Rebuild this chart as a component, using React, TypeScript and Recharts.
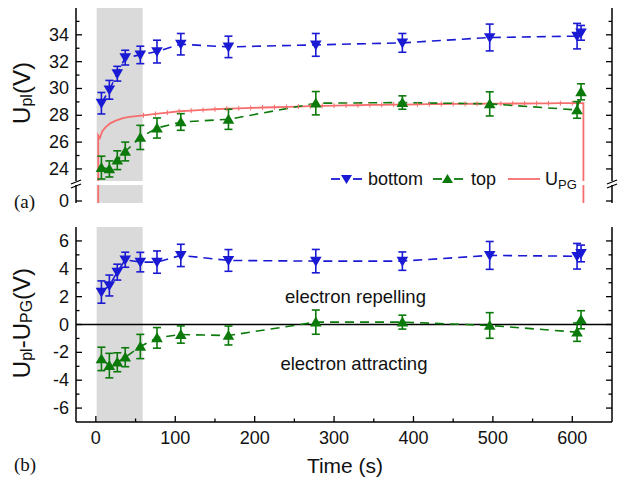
import React from "react";
import {
  ComposedChart,
  ErrorBar,
  Line,
  ReferenceArea,
  ReferenceDot,
  ReferenceLine,
  XAxis,
  YAxis,
} from "recharts";

const FONT = '"Liberation Sans", Arial, Helvetica, sans-serif';
const SERIF = '"Liberation Serif", "Times New Roman", serif';
const BLUE = "#1a1ad4";
const GREEN = "#0b7a0b";
const RED = "#f76e6e";
const SHADE = "#dadada";

// measurement times (s)
const TIME = [7, 17, 27, 37, 56, 77, 107, 167, 277, 386, 496, 606, 611];

// panel (a): plasma potential
const BOTTOM_UPL = [28.9, 29.9, 31.1, 32.3, 32.5, 32.75, 33.3, 33.1, 33.25, 33.4, 33.8, 33.9, 34.15];
const BOTTOM_UPL_ERR = [0.8, 0.7, 0.55, 0.55, 0.65, 0.85, 0.8, 0.8, 0.85, 0.7, 1.0, 0.95, 0.55];
const TOP_UPL = [24.1, 24.0, 24.65, 25.3, 26.35, 27.05, 27.5, 27.7, 28.9, 28.95, 28.85, 28.4, 29.75];
const TOP_UPL_ERR = [0.85, 0.6, 0.7, 0.7, 0.9, 0.75, 0.62, 0.75, 0.87, 0.5, 0.9, 0.62, 0.6];

// U_PG trace
const UPG_TIME = [3, 3, 5, 8, 12, 18, 25, 35, 45, 60, 75, 90, 105, 120, 135, 150, 165, 180, 195, 210, 225, 240, 255, 270, 285, 300, 315, 330, 345, 360, 375, 390, 405, 420, 435, 450, 465, 480, 495, 510, 525, 540, 555, 570, 585, 600, 614, 614];
const UPG_VAL = [-1, 26.5, 26.3, 26.8, 27.1, 27.4, 27.6, 27.8, 27.9, 28.0, 28.1, 28.2, 28.3, 28.35, 28.4, 28.45, 28.5, 28.52, 28.55, 28.58, 28.6, 28.62, 28.65, 28.68, 28.7, 28.72, 28.74, 28.75, 28.77, 28.78, 28.8, 28.8, 28.82, 28.83, 28.84, 28.85, 28.85, 28.86, 28.87, 28.87, 28.88, 28.88, 28.89, 28.89, 28.9, 28.9, 28.9, -1];

// panel (b): U_pl - U_PG
const BOTTOM_DIFF = [2.33, 2.8, 3.76, 4.65, 4.48, 4.48, 4.96, 4.6, 4.55, 4.55, 4.96, 4.9, 5.1];
const BOTTOM_DIFF_ERR = [0.8, 0.75, 0.57, 0.54, 0.7, 0.8, 0.8, 0.78, 0.84, 0.66, 1.0, 0.92, 0.6];
const TOP_DIFF = [-2.47, -2.95, -2.71, -2.35, -1.58, -0.96, -0.72, -0.79, 0.17, 0.17, -0.07, -0.55, 0.34];
const TOP_DIFF_ERR = [0.84, 0.88, 0.68, 0.68, 0.87, 0.74, 0.62, 0.68, 0.87, 0.5, 0.92, 0.66, 0.65];

const X_DOMAIN = [-25, 650];
const X_MAJOR = [0, 100, 200, 300, 400, 500, 600];
const X_TICKS = [0, 50, 100, 150, 200, 250, 300, 350, 400, 450, 500, 550, 600];
const SHADE_RANGE = [1, 59];

const UP_DOMAIN = [23.1, 36];
const UP_MAJOR = [24, 26, 28, 30, 32, 34];
const UP_TICKS = [24, 25, 26, 27, 28, 29, 30, 31, 32, 33, 34, 35];
const LOW_DOMAIN = [-0.15, 1.2];
const LOW_TICKS = [0];
const DIFF_DOMAIN = [-7, 7];
const DIFF_MAJOR = [-6, -4, -2, 0, 2, 4, 6];
const DIFF_TICKS = [-6, -5, -4, -3, -2, -1, 0, 1, 2, 3, 4, 5, 6];

const series = (vals: number[], errs: number[]) =>
  TIME.map((t, i) => ({ t, v: vals[i], err: errs[i] }));
const upg = UPG_TIME.map((t, i) => ({ t, v: UPG_VAL[i] }));

const triangle = (down: boolean, color: string) => (p: any) => {
  const { cx, cy, index } = p;
  if (cx == null || cy == null) return <g key={index} />;
  const s = 5.8;
  const pts = down
    ? `${cx - s},${cy - s * 0.75} ${cx + s},${cy - s * 0.75} ${cx},${cy + s * 0.95}`
    : `${cx - s},${cy + s * 0.75} ${cx + s},${cy + s * 0.75} ${cx},${cy - s * 0.95}`;
  return <polygon key={index} points={pts} fill={color} />;
};

const upgTick = (p: any) => {
  const { cx, cy, index, payload } = p;
  if (cx == null || index < 9 || payload.v < 20 || index >= UPG_TIME.length - 2) return <g key={index} />;
  return <line key={index} x1={cx} x2={cx} y1={cy - 2.5} y2={cy + 2.5} stroke={RED} strokeWidth={1} />;
};

const yTick = (side: "left" | "right", majors: number[], labels: boolean) => (p: any) => {
  const { x, y, payload } = p;
  const v = payload.value;
  const major = majors.includes(v);
  const dir = side === "left" ? 1 : -1;
  return (
    <g>
      <line x1={x} y1={y} x2={x + dir * (major ? 6 : 3.5)} y2={y} stroke="#000" strokeWidth={1.3} />
      {labels && major && (
        <text x={x - 7} y={y} textAnchor="end" dominantBaseline="central" fontSize={18} fill="#111" fontFamily={FONT}>
          {v}
        </text>
      )}
    </g>
  );
};

const xTick = (side: "top" | "bottom", labels: boolean) => (p: any) => {
  const { x, y, payload } = p;
  const v = payload.value;
  const major = X_MAJOR.includes(v);
  const dir = side === "top" ? 1 : -1;
  return (
    <g>
      <line x1={x} y1={y} x2={x} y2={y + dir * (major ? 6 : 3.5)} stroke="#000" strokeWidth={1.3} />
      {labels && major && (
        <text x={x} y={y + 16} textAnchor="middle" dominantBaseline="central" fontSize={18} fill="#111" fontFamily={FONT}>
          {v}
        </text>
      )}
    </g>
  );
};

const AXIS_LINE = { stroke: "#000", strokeWidth: 1.5 };

function yAxes(domain: number[], ticks: number[], majors: number[]) {
  return [
    <YAxis key="yl" yAxisId={0} type="number" domain={domain} ticks={ticks} interval={0} allowDataOverflow
      width={44} tickSize={0} tickMargin={0} tickLine={false} axisLine={AXIS_LINE} tick={yTick("left", majors, true)} />,
    <YAxis key="yr" yAxisId="r" orientation="right" type="number" domain={domain} ticks={ticks} interval={0} allowDataOverflow
      width={6} tickSize={0} tickMargin={0} tickLine={false} axisLine={AXIS_LINE} tick={yTick("right", majors, false)} />,
  ];
}

function xAxis(id: any, side: "top" | "bottom", height: number, labels: boolean) {
  return (
    <XAxis key={"x" + side} xAxisId={id} orientation={side} dataKey="t" type="number" domain={X_DOMAIN} ticks={X_TICKS}
      interval={0} allowDataOverflow height={height} tickSize={0} tickMargin={0} tickLine={false}
      axisLine={AXIS_LINE} tick={xTick(side, labels)} />
  );
}

function measured(vals: number[], errs: number[], color: string, down: boolean, name: string) {
  return (
    <Line key={name} data={series(vals, errs)} dataKey="v" type="linear" stroke={color} strokeWidth={1.6}
      strokeDasharray="9 6" dot={triangle(down, color)} activeDot={false} isAnimationActive={false}>
      <ErrorBar dataKey="err" direction="y" width={4} stroke={color} strokeWidth={1.6} />
    </Line>
  );
}

function upgLine() {
  return (
    <Line key="upg" data={upg} dataKey="v" type="linear" stroke={RED} strokeWidth={1.8} dot={upgTick}
      activeDot={false} isAnimationActive={false} />
  );
}

const W = 623;
const MARGIN_X = { left: 32, right: 5 };

export default function App() {
  return (
    <div style={{ position: "absolute", left: 0, top: 0, width: W, height: 481, background: "#fff", fontFamily: FONT }}>
      {/* (a) upper part of broken axis */}
      <div style={{ position: "absolute", left: 0, top: 0 }}>
        <ComposedChart width={W} height={181} margin={{ top: 8, bottom: 0, ...MARGIN_X }}>
          <ReferenceArea x1={SHADE_RANGE[0]} x2={SHADE_RANGE[1]} fill={SHADE} fillOpacity={1} stroke="none" />
          {xAxis(0, "top", 0, false)}
          {yAxes(UP_DOMAIN, UP_TICKS, UP_MAJOR)}
          {upgLine()}
          {measured(BOTTOM_UPL, BOTTOM_UPL_ERR, BLUE, true, "bottom")}
          {measured(TOP_UPL, TOP_UPL_ERR, GREEN, false, "top")}
        </ComposedChart>
      </div>
      {/* (a) lower part of broken axis */}
      <div style={{ position: "absolute", left: 0, top: 185 }}>
        <ComposedChart width={W} height={30} margin={{ top: 0, bottom: 12, ...MARGIN_X }}>
          <ReferenceArea x1={SHADE_RANGE[0]} x2={SHADE_RANGE[1]} fill={SHADE} fillOpacity={1} stroke="none" />
          {xAxis(0, "bottom", 0, false)}
          {yAxes(LOW_DOMAIN, LOW_TICKS, LOW_TICKS)}
          {upgLine()}
        </ComposedChart>
      </div>
      {/* (b) */}
      <div style={{ position: "absolute", left: 0, top: 227 }}>
        <ComposedChart width={W} height={254} margin={{ top: 0, bottom: 29, ...MARGIN_X }}>
          <ReferenceArea x1={SHADE_RANGE[0]} x2={SHADE_RANGE[1]} fill={SHADE} fillOpacity={1} stroke="none" />
          {xAxis(0, "bottom", 30, true)}
          {xAxis("top", "top", 0, false)}
          {yAxes(DIFF_DOMAIN, DIFF_TICKS, DIFF_MAJOR)}
          <ReferenceLine y={0} stroke="#000" strokeWidth={1.3} />
          <ReferenceDot x={327} y={2.0} r={0} fill="none" stroke="none"
            label={{ value: "electron repelling", position: "center", fontSize: 18.5, fill: "#111", fontFamily: FONT }} />
          <ReferenceDot x={325} y={-2.8} r={0} fill="none" stroke="none"
            label={{ value: "electron attracting", position: "center", fontSize: 18.5, fill: "#111", fontFamily: FONT }} />
          {measured(BOTTOM_DIFF, BOTTOM_DIFF_ERR, BLUE, true, "bdiff")}
          {measured(TOP_DIFF, TOP_DIFF_ERR, GREEN, false, "tdiff")}
        </ComposedChart>
      </div>
      {/* annotations */}
      <svg width={W} height={481} style={{ position: "absolute", left: 0, top: 0, pointerEvents: "none" }}>
        <g stroke="#000" strokeWidth={1.3}>
          <line x1={71} y1={184} x2={81} y2={180} />
          <line x1={71} y1={188} x2={81} y2={184} />
          <line x1={607} y1={184} x2={617} y2={180} />
          <line x1={607} y1={188} x2={617} y2={184} />
        </g>
        {/* legend */}
        <g>
          <line x1={331} x2={340} y1={179} y2={179} stroke={BLUE} strokeWidth={1.8} />
          <line x1={353} x2={362} y1={179} y2={179} stroke={BLUE} strokeWidth={1.8} />
          <polygon points="341,175 352,175 346.5,184" fill={BLUE} />
          <text x={368} y={179} dominantBaseline="central" fontSize={18} fill="#111">bottom</text>
          <line x1={433} x2={442} y1={179} y2={179} stroke={GREEN} strokeWidth={1.8} />
          <line x1={454} x2={463} y1={179} y2={179} stroke={GREEN} strokeWidth={1.8} />
          <polygon points="442,183 453,183 447.5,174" fill={GREEN} />
          <text x={471} y={179} dominantBaseline="central" fontSize={18} fill="#111">top</text>
          <line x1={508} x2={540} y1={179} y2={179} stroke={RED} strokeWidth={1.8} />
          <text x={545} y={179} dominantBaseline="central" fontSize={18} fill="#111">
            U<tspan fontSize={13} dy={5}>PG</tspan>
          </text>
        </g>
        {/* axis titles */}
        <text transform="rotate(-90 21 93)" x={21} y={93} textAnchor="middle" dominantBaseline="central" fontSize={24} fill="#111">
          U<tspan fontSize={16} dy={5}>pl</tspan><tspan dy={-5}>(V)</tspan>
        </text>
        <text transform="rotate(-90 21 323)" x={21} y={323} textAnchor="middle" dominantBaseline="central" fontSize={24} fill="#111">
          U<tspan fontSize={16} dy={5}>pl</tspan><tspan dy={-5}>-U</tspan><tspan fontSize={16} dy={5}>PG</tspan><tspan dy={-5}>(V)</tspan>
        </text>
        <text x={345} y={465} textAnchor="middle" dominantBaseline="central" fontSize={21} fill="#111">Time (s)</text>
        <text x={14} y={201} dominantBaseline="central" fontSize={19} fontFamily={SERIF} fill="#111">(a)</text>
        <text x={14} y={464} dominantBaseline="central" fontSize={19} fontFamily={SERIF} fill="#111">(b)</text>
      </svg>
    </div>
  );
}
